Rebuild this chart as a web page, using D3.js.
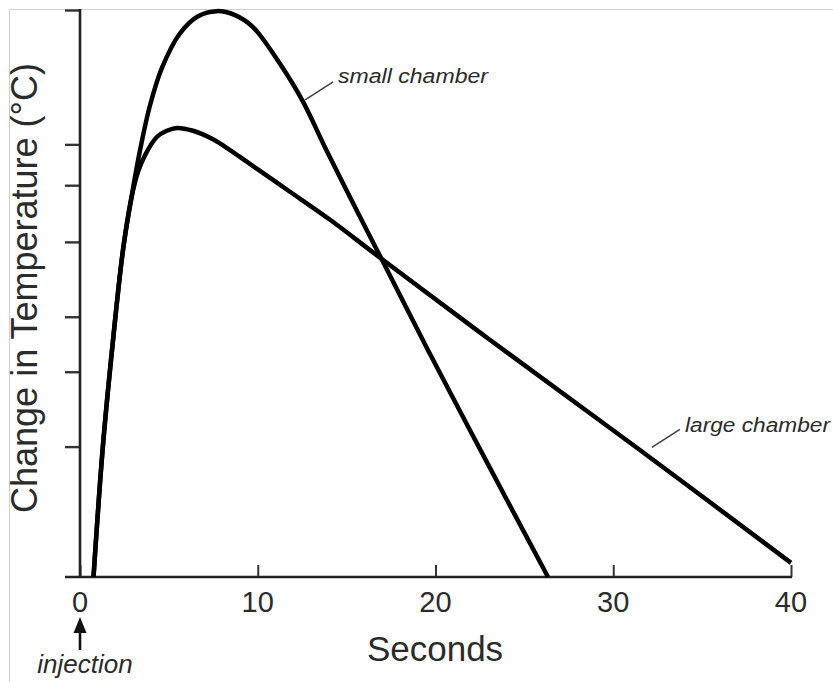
<!DOCTYPE html>
<html>
<head>
<meta charset="utf-8">
<script src="https://cdn.jsdelivr.net/npm/d3@7"></script>
<style>
  html, body { margin: 0; padding: 0; background: #fff; }
  svg { display: block; }
  text { font-family: "Liberation Sans", Arial, Helvetica, sans-serif; fill: #2b2b2b; }
</style>
</head>
<body>
<svg id="chart" width="833" height="682"></svg>
<script>
// Temperature change after injection, for two chamber sizes (relative units)
const smallTime  = [0.76, 1.27, 1.80, 2.42, 2.87, 3.38, 3.94, 4.61, 5.63, 6.64, 7.69, 8.72, 9.73, 11.25, 12.55, 13.78, 15.30, 16.88, 19.58, 22.95, 26.33];
const smallValue = [0.000, 0.224, 0.400, 0.577, 0.665, 0.753, 0.832, 0.898, 0.959, 0.989, 0.998, 0.991, 0.970, 0.905, 0.838, 0.758, 0.663, 0.566, 0.400, 0.199, 0.000];

const largeTime  = [0.76, 1.27, 1.80, 2.42, 2.87, 3.26, 3.66, 4.32, 4.88, 5.44, 6.36, 7.48, 8.44, 9.40, 11.65, 14.07, 16.88, 23.07, 31.50, 40.00];
const largeValue = [0.000, 0.224, 0.400, 0.577, 0.665, 0.714, 0.744, 0.776, 0.787, 0.792, 0.787, 0.772, 0.753, 0.732, 0.683, 0.630, 0.563, 0.418, 0.224, 0.025];

const xTicks = [0, 10, 20, 30, 40];
const yTicks = [0.230, 0.362, 0.459, 0.591, 0.691, 0.763, 1.0];

const seriesLabels = ["small chamber", "large chamber"];

const svg = d3.select("#chart");

const x = d3.scaleLinear().domain([0, 40]).range([80, 791]);
const y = d3.scaleLinear().domain([0, 1]).range([577, 10]);

// thin frame along the top and left edges
svg.append("line").attr("x1", 9).attr("x2", 833).attr("y1", 9.5).attr("y2", 9.5)
  .attr("stroke", "#cfcfcf").attr("stroke-width", 1);
svg.append("line").attr("x1", 9.5).attr("x2", 9.5).attr("y1", 9).attr("y2", 682)
  .attr("stroke", "#cfcfcf").attr("stroke-width", 1);

// x axis: ticks point up into the plot
const xAxis = svg.append("g")
  .attr("transform", `translate(0,${y(0)})`)
  .call(d3.axisTop(x).tickValues(xTicks).tickSize(12).tickFormat(""));
xAxis.select(".domain").remove();
xAxis.selectAll(".tick line").attr("stroke", "#333").attr("stroke-width", 2);
svg.append("line")
  .attr("x1", 65).attr("x2", x(40) + 1)
  .attr("y1", y(0)).attr("y2", y(0))
  .attr("stroke", "#222").attr("stroke-width", 2.6);

// x tick labels
svg.append("g").selectAll("text").data(xTicks).join("text")
  .attr("x", d => x(d))
  .attr("y", 612)
  .attr("text-anchor", "middle")
  .attr("font-size", 29)
  .text(d => d);

// y axis: unlabelled ticks pointing left
const yAxis = svg.append("g")
  .attr("transform", `translate(${x(0)},0)`)
  .call(d3.axisLeft(y).tickValues(yTicks).tickSize(15).tickFormat(""));
yAxis.select(".domain").remove();
yAxis.selectAll(".tick line").attr("stroke", "#333").attr("stroke-width", 2.4);
svg.append("line")
  .attr("x1", x(0)).attr("x2", x(0))
  .attr("y1", y(1) - 1).attr("y2", y(0))
  .attr("stroke", "#222").attr("stroke-width", 2.6);

// curves
const line = d3.line()
  .x(d => x(d[0]))
  .y(d => y(d[1]))
  .curve(d3.curveCatmullRom.alpha(0.5));

const series = [
  d3.zip(largeTime, largeValue),
  d3.zip(smallTime, smallValue)
];
svg.append("g").selectAll("path").data(series).join("path")
  .attr("d", line)
  .attr("fill", "none")
  .attr("stroke", "#000")
  .attr("stroke-width", 4.5)
  .attr("stroke-linejoin", "round");

// series labels with leader lines
const labelSpecs = [
  { text: seriesLabels[0], at: [12.55, 0.838], lead: [30, -20], tx: 338, ty: 83, len: 150 },
  { text: seriesLabels[1], at: [32.06, 0.225], lead: [30, -20], tx: 685, ty: 432, len: 145 }
];
const lab = svg.append("g").selectAll("g").data(labelSpecs).join("g");
lab.append("line")
  .attr("x1", d => x(d.at[0]) + 2)
  .attr("y1", d => y(d.at[1]) - 2)
  .attr("x2", d => x(d.at[0]) + d.lead[0])
  .attr("y2", d => y(d.at[1]) + d.lead[1])
  .attr("stroke", "#444").attr("stroke-width", 1.6);
lab.append("text")
  .attr("x", d => d.tx).attr("y", d => d.ty)
  .attr("font-size", 20)
  .attr("font-style", "italic")
  .attr("textLength", d => d.len)
  .attr("lengthAdjust", "spacingAndGlyphs")
  .text(d => d.text);

// axis titles
svg.append("text")
  .attr("transform", "translate(37,288) rotate(-90)")
  .attr("text-anchor", "middle")
  .attr("font-size", 36)
  .text("Change in Temperature (°C)");

svg.append("text")
  .attr("x", 435).attr("y", 661)
  .attr("text-anchor", "middle")
  .attr("font-size", 35)
  .text("Seconds");

// injection marker
svg.append("line")
  .attr("x1", x(0)).attr("x2", x(0))
  .attr("y1", 650).attr("y2", 628)
  .attr("stroke", "#111").attr("stroke-width", 2.6);
svg.append("path")
  .attr("d", d3.line()([[x(0) - 6.5, 633], [x(0), 617], [x(0) + 6.5, 633]]) + "Z")
  .attr("fill", "#111");
svg.append("text")
  .attr("x", 85).attr("y", 673)
  .attr("text-anchor", "middle")
  .attr("font-size", 26)
  .attr("font-style", "italic")
  .text("injection");
</script>
</body>
</html>
